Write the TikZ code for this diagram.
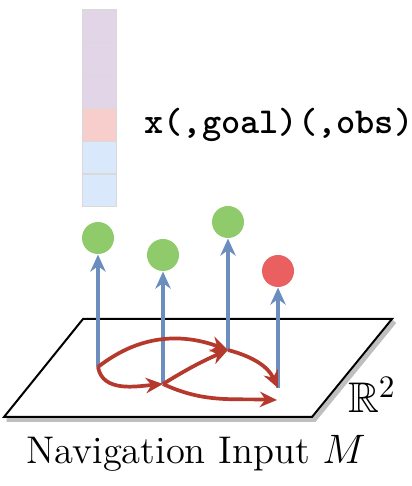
\documentclass[tikz,border=0pt]{standalone}
\usepackage{amssymb}
\usetikzlibrary{arrows.meta,positioning}
\definecolor{cellpurple}{HTML}{E1D5E7}
\definecolor{cellpink}{HTML}{F8CECC}
\definecolor{cellblue}{HTML}{DAE8FC}
\definecolor{ptgreen}{HTML}{8FCB6B}
\definecolor{ptred}{HTML}{EA6060}
\definecolor{liftblue}{HTML}{6C8EBF}
\definecolor{movered}{HTML}{B5392C}
\tikzset{
    cell/.style = {draw = black!15, minimum width = 11.9pt, minimum height = 11.5pt, inner sep = 0pt},
    dot/.style = {circle, minimum size = 11.2pt, inner sep = 0pt},
    lift/.style = {draw = liftblue, line width = 1.3pt, -{Stealth[length = 6pt, width = 5.4pt]}},
    move/.style = {draw = movered, line width = 1.3pt, -{Stealth[length = 6pt, width = 5.4pt]}},
}
\begin{document}
\begin{tikzpicture}[x = 3.5pt, y = 3.5pt]
            \useasboundingbox (0, 0) rectangle (41.1, 48.6);
            % the input vector
            \foreach \i/\c in {1/cellpurple, 2/cellpurple, 3/cellpurple, 4/cellpink, 5/cellblue, 6/cellblue}{
                \node[cell, fill = \c] (c\i) at (9.97, 49.23 - 3.28*\i) {};
            }
            \node[right = 6pt of c4, font = \ttfamily\bfseries\fontsize{12.8}{15}\selectfont] (vec) {x(,goal)(,obs)};
            % the plane
            \coordinate (p1) at (8.3, 16.7);
            \coordinate (p2) at (39.2, 16.7);
            \coordinate (p3) at (31.2, 6.9);
            \coordinate (p4) at (0.4, 6.9);
            \draw[black!25, line width = 1.6pt] ([shift = {(0.25, -0.25)}]p2) -- ([shift = {(0.25, -0.25)}]p3) -- ([shift = {(0.25, -0.25)}]p4);
            \draw[fill = white, line width = 0.7pt] (p1) -- (p2) -- (p3) -- (p4) -- cycle;
            \node[font = \fontsize{15}{17}\selectfont] (rr) at (37.2, 9.1) {$\mathbb{R}^2$};
            % waypoints
            \coordinate (A) at (9.8, 11.9);
            \coordinate (B) at (16.3, 10.2);
            \coordinate (C) at (22.8, 13.6);
            \coordinate (D) at (27.8, 9.8);
            \coordinate (D2) at (27.7, 8.6);
            % each waypoint lifted to its point
            \foreach \p/\y/\c in {A/24.8/ptgreen, B/23.1/ptgreen, C/26.4/ptgreen, D/21.5/ptred}{
                \node[dot, fill = \c] (e\p) at (\p |- 0,\y) {};
                \draw[lift] (\p) -- (e\p);
            }
            \draw[move] (A) to[out = 38, in = 160] (C);
            \draw[move] (A) to[out = -80, in = 185] (B);
            \draw[move] (B) to[bend left = 4] (C);
            \draw[move] (C) to[out = -15, in = 115] (D);
            \draw[move] (B) to[out = -25, in = 178] (D2);
            \node[font = \fontsize{13.5}{16}\selectfont] (title) at (19.6, 3.3) {Navigation Input $M$};
        \end{tikzpicture}
\end{document}
